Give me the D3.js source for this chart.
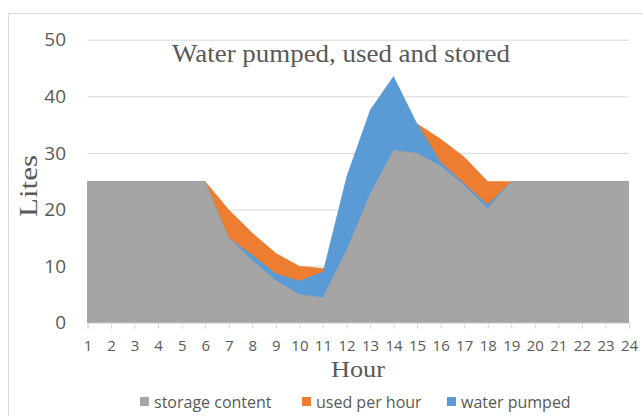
<!DOCTYPE html>
<html><head><meta charset="utf-8">
<script src="https://cdn.jsdelivr.net/npm/d3@7"></script>
<style>body{margin:0;background:#fff}svg{display:block}</style>
</head><body><svg id="c" width="643" height="416"></svg>
<script>
const hours = d3.range(1, 25).map(String);
const storageContent = [25,25,25,25,25,25,15,11,7.5,5,4.5,12.8,22.8,30.5,30,27.7,24.3,20.2,25,25,25,25,25,25];
const usedPerHour    = [25,25,25,25,25,25,20,15.9,12.3,10,9.6,13,23,31,35.2,32.5,29.3,25,25,25,25,25,25,25];
const waterPumped    = [25,25,25,25,25,25,15,12,8.7,7.4,9,25.8,37.6,43.6,35.2,28.4,24.6,20.9,25,25,25,25,25,25];
const yTicks = [0,10,20,30,40,50];
const seriesNames = ["storage content","used per hour","water pumped"];
const colors = {"storage content":"#a5a5a5","used per hour":"#ed7d31","water pumped":"#5b9bd5"};

const svg = d3.select("#c");
svg.append("rect").attr("x",8.5).attr("y",13.5).attr("width",700).attr("height",500)
  .attr("fill","none").attr("stroke","#d9d9d9");

const x = d3.scalePoint().domain(hours).range([87.5, 629]);
const y = d3.scaleLinear().domain([0,50]).range([322.7, 39.7]);

svg.append("g").selectAll("line").data(yTicks.filter(d=>d>0)).join("line")
  .attr("x1",87.5).attr("x2",629).attr("y1",d=>y(d)+0.5).attr("y2",d=>y(d)+0.5)
  .attr("stroke","#d9d9d9").attr("stroke-width",1);

const area = vals => d3.area().x((d,i)=>x(hours[i])).y0(y(0)).y1(d=>y(d))(vals);
const data = {"storage content":storageContent,"used per hour":usedPerHour,"water pumped":waterPumped};
["used per hour","water pumped","storage content"].forEach(n=>{
  svg.append("path").attr("d",area(data[n])).attr("fill",colors[n]);
});

const xa = svg.append("g").attr("transform",`translate(0,${y(0)})`)
  .call(d3.axisBottom(x).tickSize(6).tickPadding(12));
xa.select(".domain").attr("stroke","#d9d9d9");
xa.selectAll(".tick line").attr("stroke","#d9d9d9");
xa.selectAll("text").attr("fill","#595959").style("font-family","Open Sans").style("font-size","15px");

svg.append("g").selectAll("text").data(yTicks).join("text")
  .attr("x",66).attr("y",d=>y(d)).attr("dy","0.35em").attr("text-anchor","end")
  .attr("fill","#595959").style("font-family","Open Sans").style("font-size","19px").text(d=>d);

svg.append("text").attr("x",341).attr("y",62).attr("text-anchor","middle")
  .attr("fill","#595959").style("font-family","Liberation Serif").style("font-size","25px")
  .attr("textLength",338).attr("lengthAdjust","spacingAndGlyphs")
  .text("Water pumped, used and stored");
svg.append("text").attr("x",358).attr("y",377).attr("text-anchor","middle")
  .attr("fill","#595959").style("font-family","Liberation Serif").style("font-size","24px")
  .attr("textLength",54).attr("lengthAdjust","spacingAndGlyphs").text("Hour");
svg.append("text").attr("transform","translate(37,186) rotate(-90)").attr("text-anchor","middle")
  .attr("fill","#595959").style("font-family","Liberation Serif").style("font-size","25px")
  .attr("textLength",62).attr("lengthAdjust","spacingAndGlyphs").text("Lites");

const lx = [140, 302, 447];
const lg = svg.append("g").selectAll("g").data(seriesNames).join("g")
  .attr("transform",(d,i)=>`translate(${lx[i]},402)`);
lg.append("rect").attr("x",0).attr("y",-5).attr("width",9).attr("height",9).attr("fill",d=>colors[d]);
lg.append("text").attr("x",14).attr("y",0).attr("dy","0.35em").attr("fill","#595959")
  .style("font-family","Open Sans").style("font-size","16px").text(d=>d);
</script></body></html>
